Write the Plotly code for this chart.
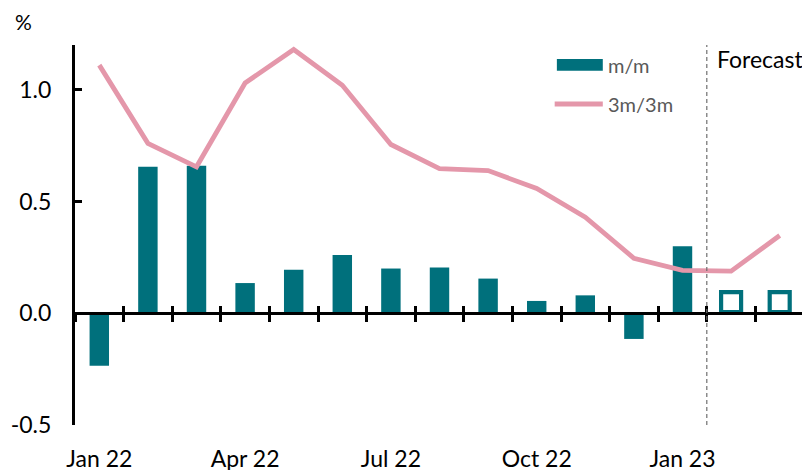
import plotly.graph_objects as go

months = ["Jan 22", "Feb 22", "Mar 22", "Apr 22", "May 22", "Jun 22", "Jul 22",
          "Aug 22", "Sep 22", "Oct 22", "Nov 22", "Dec 22", "Jan 23", "Feb 23", "Mar 23"]
mm_actual = [-0.235, 0.655, 0.66, 0.135, 0.195, 0.26, 0.20, 0.205, 0.155, 0.055, 0.08, -0.115, 0.30]
mm_forecast = [0.05, 0.05]
m3m3 = [1.11, 0.76, 0.655, 1.03, 1.18, 1.02, 0.755, 0.647, 0.638, 0.558, 0.43, 0.246, 0.192, 0.188, 0.348]
tick_labels = ["Jan 22", "Apr 22", "Jul 22", "Oct 22", "Jan 23"]
y_ticks = [-0.5, 0.0, 0.5, 1.0]

TEAL = "#00707C"
PINK = "#E497AA"
FONT = "Lato"

n_act = len(mm_actual)
ymin, ymax = -0.5, 1.2
zero_pos = (0 - ymin) / (ymax - ymin)
xr = [-0.5, len(months) - 0.5]
y_text = [f"{v:.1f}" for v in y_ticks]

fig = go.Figure()
fig.add_trace(go.Bar(x=months[:n_act], y=mm_actual, marker=dict(color=TEAL, line=dict(width=0)),
                     xaxis="x", yaxis="y", showlegend=False))
fig.add_trace(go.Scatter(x=months, y=m3m3, mode="lines", line=dict(color=PINK, width=4.8),
                         xaxis="x2", yaxis="y", showlegend=False))
fig.add_trace(go.Scatter(x=months[n_act:], y=mm_forecast, mode="markers",
                         marker=dict(symbol="square", size=20, color="white",
                                     line=dict(color=TEAL, width=4.2)),
                         xaxis="x3", yaxis="y", showlegend=False))

common_cat = dict(type="category", categoryorder="array", categoryarray=months, range=xr)

# the page body adds an 8px offset, so the figure is sized to fill the rest of the window
fig.update_layout(
    width=802, height=462,
    margin=dict(l=67, r=6, t=37, b=45),
    plot_bgcolor="white", paper_bgcolor="white",
    bargap=0.6,
    font=dict(family=FONT, color="black", size=23),
    xaxis=dict(**common_cat, showline=False, ticks="", showgrid=False, zeroline=False,
               tickmode="array", tickvals=tick_labels, ticktext=tick_labels,
               ticklabelstandoff=18, tickfont=dict(size=23), automargin=False),
    xaxis2=dict(**common_cat, overlaying="x", anchor="free", position=zero_pos, side="bottom",
                showline=True, linecolor="black", linewidth=3,
                ticks="outside", tickson="boundaries", ticklen=7, tickwidth=3, tickcolor="black",
                showticklabels=False, showgrid=False, zeroline=False),
    xaxis3=dict(**common_cat, overlaying="x", anchor="free", position=zero_pos, side="bottom",
                showline=False,
                ticks="inside", tickson="boundaries", ticklen=7, tickwidth=3, tickcolor="black",
                showticklabels=False, showgrid=False, zeroline=False),
    yaxis=dict(range=[ymin, ymax], tickmode="array", tickvals=y_ticks, ticktext=y_text,
               showline=True, linecolor="black", linewidth=3,
               ticks="inside", ticklen=7, tickwidth=3, tickcolor="black", automargin=False,
               showgrid=False, zeroline=False, ticklabelstandoff=16, tickfont=dict(size=23)),
)

# forecast divider between last actual and first forecast month
div_x = n_act - 0.5
fig.add_shape(type="line", xref="x", yref="paper", x0=div_x, x1=div_x, y0=0, y1=1,
              line=dict(color="#6F6F6F", width=1.2, dash="4px,3px"))
fig.add_annotation(text="Forecast", xref="x", yref="paper", x=div_x, y=0.962,
                   xanchor="left", yanchor="middle", xshift=8, showarrow=False,
                   font=dict(size=23, color="black"))

# custom legend
fig.add_shape(type="rect", xref="paper", yref="paper", x0=0.661, x1=0.724, y0=0.932, y1=0.963,
              line=dict(width=0), fillcolor=TEAL)
fig.add_shape(type="line", xref="paper", yref="paper", x0=0.658, x1=0.724, y0=0.845, y1=0.845,
              line=dict(color=PINK, width=5))
fig.add_annotation(text="m/m", xref="paper", yref="paper", x=0.728, y=0.947, xanchor="left",
                   yanchor="middle", showarrow=False, font=dict(size=20, color="#595959"))
fig.add_annotation(text="3m/3m", xref="paper", yref="paper", x=0.728, y=0.845, xanchor="left",
                   yanchor="middle", showarrow=False, font=dict(size=20, color="#595959"))

fig.add_annotation(text="%", xref="paper", yref="paper", x=-0.071, y=1.061, xanchor="center",
                   yanchor="middle", showarrow=False, font=dict(size=21, color="black"))

fig.write_html("out.html")
